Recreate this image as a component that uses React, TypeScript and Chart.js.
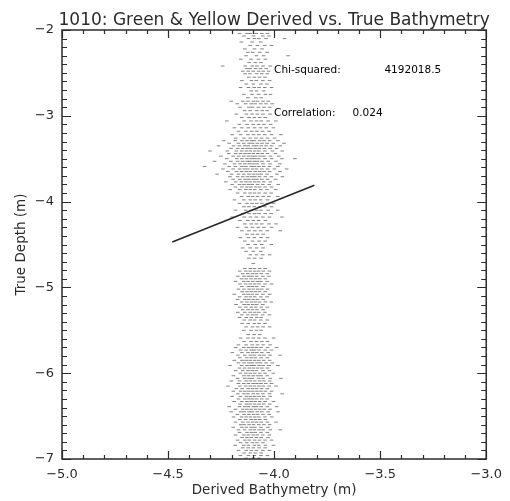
import React, { useEffect, useRef } from "react";
import { Chart, registerables } from "chart.js";

Chart.register(...registerables);

const TITLE = "1010: Green & Yellow Derived vs. True Bathymetry";
const X_TITLE = "Derived Bathymetry (m)";
const Y_TITLE = "True Depth (m)";
const X_RANGE = [-5, -3];
const Y_RANGE = [-7, -2];
const X_MAJOR = 0.5;
const Y_MAJOR = 1;
const MINOR = 0.1;

const CHI_LABEL = "Chi-squared:";
const CHI_VALUE = "4192018.5";
const CORR_LABEL = "Correlation:";
const CORR_VALUE = "0.024";
// annotation anchors in data units [x, y]
const CHI_LABEL_AT = [-4.0, -2.5];
const CHI_VALUE_AT = [-3.48, -2.5];
const CORR_LABEL_AT = [-4.0, -3.0];
const CORR_VALUE_AT = [-3.63, -3.0];

// fitted line (derived vs true)
const FIT_X = [-4.48, -3.81];
const FIT_Y = [-4.47, -3.81];

// true depth levels and derived bathymetry values observed at each level
const DEPTHS = [
  -2.04, -2.07, -2.1, -2.14, -2.18, -2.22, -2.26, -2.3, -2.34, -2.38,
  -2.42, -2.45, -2.48, -2.51, -2.55, -2.59, -2.63, -2.67, -2.71, -2.75, -2.79,
  -2.83, -2.86, -2.9, -2.94, -2.98, -3.02, -3.06, -3.1, -3.14, -3.18, -3.22, -3.26,
  -3.29, -3.32, -3.35, -3.38, -3.41, -3.44, -3.47, -3.5, -3.53, -3.56, -3.59, -3.62,
  -3.65, -3.68, -3.71, -3.74, -3.77, -3.8, -3.83, -3.86,
  -3.9, -3.94, -3.98, -4.02, -4.06, -4.1, -4.14, -4.18, -4.22, -4.26, -4.3, -4.34, -4.38, -4.42,
  -4.46, -4.5, -4.54, -4.58, -4.62, -4.66, -4.72,
  -4.78, -4.81, -4.84, -4.87, -4.9, -4.93, -4.96, -4.99, -5.02, -5.05, -5.08, -5.11,
  -5.14, -5.17, -5.2, -5.23, -5.26, -5.29, -5.32, -5.35, -5.38,
  -5.42, -5.46, -5.5, -5.55, -5.59, -5.63, -5.67,
  -5.7, -5.73, -5.76, -5.79, -5.82, -5.85, -5.88, -5.91, -5.94, -5.97, -6.0, -6.03,
  -6.06, -6.09, -6.12, -6.15, -6.18, -6.21, -6.24, -6.27, -6.3, -6.33, -6.36, -6.39,
  -6.42, -6.45, -6.48, -6.51, -6.54, -6.57, -6.6, -6.63, -6.66, -6.69, -6.72, -6.75,
  -6.78, -6.81, -6.84, -6.87, -6.9, -6.93, -6.96, -6.99,
];

const DERIVED = [
  [-4.163, -4.128, -4.112, -4.084, -4.058, -4.031],
  [-4.142, -4.097, -4.053, -4.024],
  [-4.121, -4.093, -4.072, -4.038, -3.951],
  [-4.154, -4.104, -4.063],
  [-4.113, -4.079, -4.044, -4.012],
  [-4.138, -4.092, -4.057],
  [-4.124, -4.101, -4.068, -4.033],
  [-4.132, -4.083, -4.049, -3.934],
  [-4.157, -4.109, -4.074, -4.041],
  [-4.118, -4.088, -4.062],
  [-4.243, -4.136, -4.103, -4.081, -4.052, -4.018],
  [-4.129, -4.113, -4.087, -4.064, -4.037],
  [-4.148, -4.122, -4.098, -4.073, -4.051, -4.026],
  [-4.137, -4.114, -4.082, -4.058, -4.032],
  [-4.119, -4.093, -4.069, -4.043],
  [-4.152, -4.107, -4.084, -4.053, -4.021],
  [-4.131, -4.098, -4.062, -4.034],
  [-4.158, -4.121, -4.094, -4.071, -4.044, -4.012],
  [-4.108, -4.083, -4.049],
  [-4.143, -4.104, -4.073, -4.041, -4.017],
  [-4.124, -4.086, -4.061],
  [-4.202, -4.148, -4.123, -4.097, -4.078, -4.052, -4.027],
  [-4.173, -4.134, -4.108, -4.089, -4.063, -4.038, -4.009],
  [-4.161, -4.119, -4.102, -4.074, -4.047, -4.021],
  [-4.139, -4.113, -4.082, -4.056, -4.033],
  [-4.178, -4.131, -4.104, -4.079, -4.052, -4.019],
  [-4.152, -4.118, -4.093, -4.068, -4.042],
  [-4.223, -4.141, -4.109, -4.083, -4.061, -4.028, -3.992],
  [-4.164, -4.127, -4.098, -4.073, -4.048, -4.016],
  [-4.187, -4.153, -4.121, -4.092, -4.064, -4.037, -4.003],
  [-4.168, -4.133, -4.106, -4.081, -4.054, -4.023],
  [-4.198, -4.158, -4.124, -4.097, -4.072, -4.044, -4.012, -3.968],
  [-4.181, -4.142, -4.113, -4.086, -4.059, -4.031, -3.998],
  [-4.238, -4.183, -4.152, -4.128, -4.107, -4.093, -4.068, -4.047, -4.021, -3.982],
  [-4.212, -4.168, -4.143, -4.118, -4.101, -4.079, -4.057, -4.033, -4.004, -3.953],
  [-4.262, -4.191, -4.163, -4.139, -4.122, -4.097, -4.082, -4.061, -4.038, -4.012, -3.971],
  [-4.203, -4.172, -4.148, -4.127, -4.109, -4.088, -4.069, -4.046, -4.019, -3.988],
  [-4.302, -4.221, -4.178, -4.153, -4.131, -4.112, -4.091, -4.072, -4.043, -4.008, -3.962],
  [-4.214, -4.181, -4.158, -4.137, -4.118, -4.098, -4.077, -4.056, -4.031, -3.993],
  [-4.251, -4.193, -4.167, -4.143, -4.121, -4.103, -4.087, -4.066, -4.048, -4.017, -3.978],
  [-4.223, -4.176, -4.152, -4.128, -4.108, -4.091, -4.073, -4.042, -4.012, -3.963, -3.902],
  [-4.281, -4.204, -4.172, -4.148, -4.127, -4.113, -4.094, -4.078, -4.057, -4.028, -3.991],
  [-4.232, -4.187, -4.161, -4.138, -4.117, -4.099, -4.081, -4.052, -4.019, -3.973],
  [-4.328, -4.212, -4.183, -4.152, -4.133, -4.108, -4.092, -4.071, -4.049, -4.022, -3.982],
  [-4.241, -4.193, -4.163, -4.141, -4.124, -4.102, -4.083, -4.058, -4.031, -3.998, -3.941],
  [-4.218, -4.177, -4.153, -4.131, -4.112, -4.089, -4.068, -4.047, -4.021, -3.972],
  [-4.269, -4.201, -4.168, -4.143, -4.119, -4.098, -4.079, -4.061, -4.033, -3.987],
  [-4.208, -4.172, -4.148, -4.126, -4.107, -4.091, -4.069, -4.042, -4.013, -3.961],
  [-4.193, -4.162, -4.137, -4.119, -4.098, -4.081, -4.058, -4.031, -3.993],
  [-4.228, -4.181, -4.154, -4.132, -4.113, -4.092, -4.073, -4.049, -4.018],
  [-4.198, -4.163, -4.142, -4.121, -4.103, -4.078, -4.053, -4.023, -3.981],
  [-4.183, -4.152, -4.128, -4.109, -4.087, -4.068, -4.043, -4.012],
  [-4.207, -4.162, -4.133, -4.112, -4.091, -4.063, -4.034, -3.992],
  [-4.172, -4.138, -4.113, -4.093, -4.071, -4.042, -4.014],
  [-4.153, -4.122, -4.101, -4.078, -4.052, -4.024, -3.983],
  [-4.187, -4.143, -4.112, -4.089, -4.063, -4.031],
  [-4.163, -4.128, -4.103, -4.082, -4.058, -4.032, -4.003],
  [-4.142, -4.119, -4.093, -4.068, -4.043, -4.012],
  [-4.182, -4.134, -4.107, -4.083, -4.062, -4.028, -3.983],
  [-4.148, -4.118, -4.092, -4.071, -4.042, -4.013],
  [-4.198, -4.141, -4.112, -4.084, -4.053, -4.022, -3.963],
  [-4.161, -4.124, -4.098, -4.073, -4.041],
  [-4.138, -4.108, -4.083, -4.058, -4.024, -3.991],
  [-4.172, -4.131, -4.102, -4.074, -4.048, -4.012],
  [-4.152, -4.119, -4.091, -4.063, -4.032, -3.971],
  [-4.128, -4.102, -4.078, -4.051],
  [-4.159, -4.121, -4.093, -4.062, -4.031],
  [-4.138, -4.102, -4.071, -4.042],
  [-4.123, -4.089, -4.058, -4.013],
  [-4.148, -4.113, -4.082, -4.052],
  [-4.132, -4.098, -4.063],
  [-4.112, -4.083, -4.054, -4.021],
  [-4.119, -4.092, -4.061],
  [-4.098],
  [-4.138, -4.112, -4.093, -4.068, -4.042],
  [-4.162, -4.133, -4.113, -4.092, -4.073, -4.051, -4.022],
  [-4.148, -4.124, -4.102, -4.083, -4.061, -4.032],
  [-4.171, -4.142, -4.121, -4.104, -4.082, -4.053, -4.024],
  [-4.153, -4.132, -4.109, -4.088, -4.068, -4.041],
  [-4.182, -4.143, -4.123, -4.101, -4.079, -4.062, -4.033],
  [-4.161, -4.134, -4.112, -4.092, -4.071, -4.043, -4.012],
  [-4.152, -4.121, -4.103, -4.083, -4.052],
  [-4.168, -4.142, -4.118, -4.098, -4.077, -4.058, -4.031],
  [-4.151, -4.128, -4.108, -4.089, -4.069, -4.042],
  [-4.188, -4.143, -4.122, -4.103, -4.081, -4.053, -4.021],
  [-4.163, -4.132, -4.112, -4.091, -4.062, -4.033],
  [-4.172, -4.138, -4.119, -4.098, -4.078, -4.051],
  [-4.153, -4.128, -4.107, -4.088, -4.068, -4.041, -4.013],
  [-4.179, -4.141, -4.122, -4.101, -4.082, -4.053],
  [-4.162, -4.133, -4.108, -4.087, -4.061, -4.032],
  [-4.148, -4.123, -4.102, -4.081, -4.052],
  [-4.171, -4.138, -4.113, -4.092, -4.072, -4.043],
  [-4.152, -4.124, -4.101, -4.083, -4.054, -4.022],
  [-4.163, -4.131, -4.108, -4.082, -4.061],
  [-4.141, -4.113, -4.092, -4.063, -4.032],
  [-4.151, -4.122, -4.093, -4.071, -4.043],
  [-4.132, -4.102, -4.078, -4.052, -4.021],
  [-4.143, -4.108, -4.083, -4.061],
  [-4.122, -4.094, -4.068],
  [-4.158, -4.123, -4.098, -4.072, -4.043, -4.002],
  [-4.142, -4.109, -4.083, -4.058, -4.031],
  [-4.168, -4.132, -4.103, -4.078, -4.052, -4.019],
  [-4.181, -4.143, -4.121, -4.102, -4.083, -4.062, -4.031, -3.988],
  [-4.158, -4.132, -4.108, -4.093, -4.071, -4.042, -4.013],
  [-4.197, -4.152, -4.123, -4.101, -4.082, -4.058, -4.028],
  [-4.171, -4.138, -4.112, -4.094, -4.068, -4.048, -4.019, -3.972],
  [-4.162, -4.128, -4.107, -4.088, -4.061, -4.032],
  [-4.188, -4.151, -4.132, -4.113, -4.092, -4.072, -4.049, -4.021],
  [-4.168, -4.142, -4.119, -4.102, -4.081, -4.063, -4.038, -4.009],
  [-4.208, -4.153, -4.128, -4.108, -4.093, -4.071, -4.052, -4.024, -3.982],
  [-4.163, -4.139, -4.117, -4.098, -4.078, -4.058, -4.031],
  [-4.181, -4.148, -4.123, -4.103, -4.084, -4.052, -4.022],
  [-4.159, -4.133, -4.112, -4.091, -4.068, -4.043, -4.004],
  [-4.192, -4.142, -4.121, -4.099, -4.078, -4.061, -4.032],
  [-4.172, -4.138, -4.118, -4.102, -4.073, -4.052, -4.018, -3.968],
  [-4.201, -4.163, -4.132, -4.112, -4.091, -4.068, -4.048, -4.021],
  [-4.168, -4.143, -4.121, -4.099, -4.081, -4.062, -4.039, -4.012],
  [-4.218, -4.162, -4.134, -4.113, -4.093, -4.072, -4.051, -4.023, -3.991],
  [-4.178, -4.151, -4.122, -4.102, -4.083, -4.059, -4.032],
  [-4.192, -4.158, -4.138, -4.119, -4.101, -4.081, -4.062, -4.041, -4.012],
  [-4.171, -4.142, -4.123, -4.098, -4.077, -4.053, -4.022, -3.962],
  [-4.198, -4.159, -4.131, -4.112, -4.092, -4.071, -4.049, -4.018],
  [-4.168, -4.138, -4.119, -4.101, -4.082, -4.058, -4.033],
  [-4.188, -4.152, -4.128, -4.108, -4.089, -4.068, -4.042, -4.003],
  [-4.161, -4.131, -4.113, -4.092, -4.071, -4.049, -4.021],
  [-4.212, -4.163, -4.139, -4.121, -4.098, -4.083, -4.061, -4.032, -3.988],
  [-4.182, -4.148, -4.128, -4.108, -4.088, -4.068, -4.047, -4.019],
  [-4.203, -4.158, -4.141, -4.118, -4.102, -4.079, -4.058, -4.028, -3.982],
  [-4.173, -4.142, -4.119, -4.097, -4.078, -4.052, -4.023],
  [-4.191, -4.153, -4.132, -4.112, -4.091, -4.072, -4.043, -4.011],
  [-4.162, -4.134, -4.108, -4.088, -4.068, -4.041],
  [-4.182, -4.148, -4.123, -4.101, -4.082, -4.061, -4.032, -3.991],
  [-4.158, -4.141, -4.118, -4.097, -4.072, -4.048, -4.021],
  [-4.193, -4.152, -4.131, -4.108, -4.091, -4.062, -4.029],
  [-4.168, -4.139, -4.112, -4.093, -4.071, -4.052, -4.018, -3.971],
  [-4.163, -4.128, -4.107, -4.089, -4.062, -4.032],
  [-4.182, -4.142, -4.121, -4.098, -4.079, -4.053, -4.022],
  [-4.151, -4.128, -4.108, -4.083, -4.061, -4.029],
  [-4.172, -4.138, -4.117, -4.092, -4.069, -4.043, -4.012],
  [-4.158, -4.129, -4.102, -4.081, -4.052],
  [-4.183, -4.143, -4.121, -4.093, -4.072, -4.041, -4.003],
  [-4.148, -4.122, -4.098, -4.071, -4.042],
  [-4.168, -4.132, -4.108, -4.083, -4.053, -4.022],
  [-4.141, -4.112, -4.088, -4.061],
  [-4.159, -4.121, -4.093, -4.062, -4.031],
  [-4.132, -4.098, -4.071],
];

const FONT = "'DejaVu Sans', sans-serif";
const INK = "#2b2b2b";

function fmt(v: number, digits: number) {
  return v.toFixed(digits).replace("-", "\u2212");
}

const idlFrame = {
  id: "idlFrame",
  afterDraw(chart: any) {
    const { ctx, chartArea: a, scales } = chart;
    const xs = scales.x;
    const ys = scales.y;
    ctx.save();
    ctx.strokeStyle = INK;
    ctx.lineWidth = 1.5;
    ctx.strokeRect(a.left, a.top, a.right - a.left, a.bottom - a.top);
    ctx.lineWidth = 1.2;
    ctx.beginPath();
    const nx = Math.round((X_RANGE[1] - X_RANGE[0]) / MINOR);
    for (let i = 0; i <= nx; i++) {
      const v = X_RANGE[0] + i * MINOR;
      const major = Math.abs(v / X_MAJOR - Math.round(v / X_MAJOR)) < 1e-6;
      const len = major ? 8 : 4;
      const px = Math.round(xs.getPixelForValue(v)) + 0.5;
      ctx.moveTo(px, a.bottom);
      ctx.lineTo(px, a.bottom - len);
      ctx.moveTo(px, a.top);
      ctx.lineTo(px, a.top + len);
    }
    const ny = Math.round((Y_RANGE[1] - Y_RANGE[0]) / MINOR);
    for (let i = 0; i <= ny; i++) {
      const v = Y_RANGE[0] + i * MINOR;
      const major = Math.abs(v / Y_MAJOR - Math.round(v / Y_MAJOR)) < 1e-6;
      const len = major ? 9 : 5;
      const py = Math.round(ys.getPixelForValue(v)) + 0.5;
      ctx.moveTo(a.left, py);
      ctx.lineTo(a.left + len, py);
      ctx.moveTo(a.right, py);
      ctx.lineTo(a.right - len, py);
    }
    ctx.stroke();

    ctx.fillStyle = INK;
    ctx.textAlign = "center";
    ctx.textBaseline = "alphabetic";
    const cx = (a.left + a.right) / 2;
    ctx.font = `17px ${FONT}`;
    ctx.fillText(TITLE, cx, 25);
    ctx.font = `13.5px ${FONT}`;
    ctx.fillText(X_TITLE, cx, 494);
    ctx.save();
    ctx.translate(25, (a.top + a.bottom) / 2);
    ctx.rotate(-Math.PI / 2);
    ctx.fillText(Y_TITLE, 0, 0);
    ctx.restore();

    ctx.textAlign = "left";
    ctx.fillStyle = "#000";
    ctx.font = `10.5px ${FONT}`;
    const put = (t: string, at: number[]) =>
      ctx.fillText(t, xs.getPixelForValue(at[0]), ys.getPixelForValue(at[1]));
    put(CHI_LABEL, CHI_LABEL_AT);
    put(CHI_VALUE, CHI_VALUE_AT);
    put(CORR_LABEL, CORR_LABEL_AT);
    put(CORR_VALUE, CORR_VALUE_AT);
    ctx.restore();
  },
};

export default function App() {
  const ref = useRef<HTMLCanvasElement | null>(null);
  useEffect(() => {
    if (!ref.current) return;
    const points: { x: number; y: number }[] = [];
    DEPTHS.forEach((d, i) => {
      (DERIVED[i] || []).forEach((x) => points.push({ x, y: d }));
    });
    const fit = FIT_X.map((x, i) => ({ x, y: FIT_Y[i] }));
    const chart = new Chart(ref.current, {
      type: "scatter",
      data: {
        datasets: [
          {
            data: points,
            pointStyle: "line",
            pointRadius: 1.8,
            borderWidth: 1,
            borderColor: "rgba(30,30,30,0.55)",
            backgroundColor: "rgba(30,30,30,0.55)",
          },
          {
            type: "line",
            data: fit,
            showLine: true,
            borderColor: "#262626",
            borderWidth: 1.6,
            pointRadius: 0,
          },
        ],
      } as any,
      options: {
        responsive: false,
        animation: false,
        devicePixelRatio: 1,
        layout: { padding: { top: 30, right: 20, left: 0, bottom: 0 } },
        plugins: { legend: { display: false }, tooltip: { enabled: false } },
        scales: {
          x: {
            type: "linear",
            min: X_RANGE[0],
            max: X_RANGE[1],
            grid: { display: false, drawTicks: false },
            border: { display: false },
            ticks: {
              stepSize: X_MAJOR,
              autoSkip: false,
              maxRotation: 0,
              padding: 8,
              color: INK,
              font: { family: FONT, size: 13 },
              callback: (v: any) => fmt(Number(v), 1),
            },
            afterFit: (s: any) => {
              s.height = 42;
            },
          },
          y: {
            type: "linear",
            min: Y_RANGE[0],
            max: Y_RANGE[1],
            grid: { display: false, drawTicks: false },
            border: { display: false },
            ticks: {
              stepSize: Y_MAJOR,
              autoSkip: false,
              padding: 8,
              color: INK,
              font: { family: FONT, size: 13 },
              callback: (v: any) => fmt(Number(v), 0),
            },
            afterFit: (s: any) => {
              s.width = 62;
            },
          },
        },
      } as any,
      plugins: [idlFrame],
    });
    return () => chart.destroy();
  }, []);
  return (
    <canvas
      ref={ref}
      width={510}
      height={501}
      style={{ position: "absolute", left: 0, top: 0, width: 510, height: 501 }}
    />
  );
}
